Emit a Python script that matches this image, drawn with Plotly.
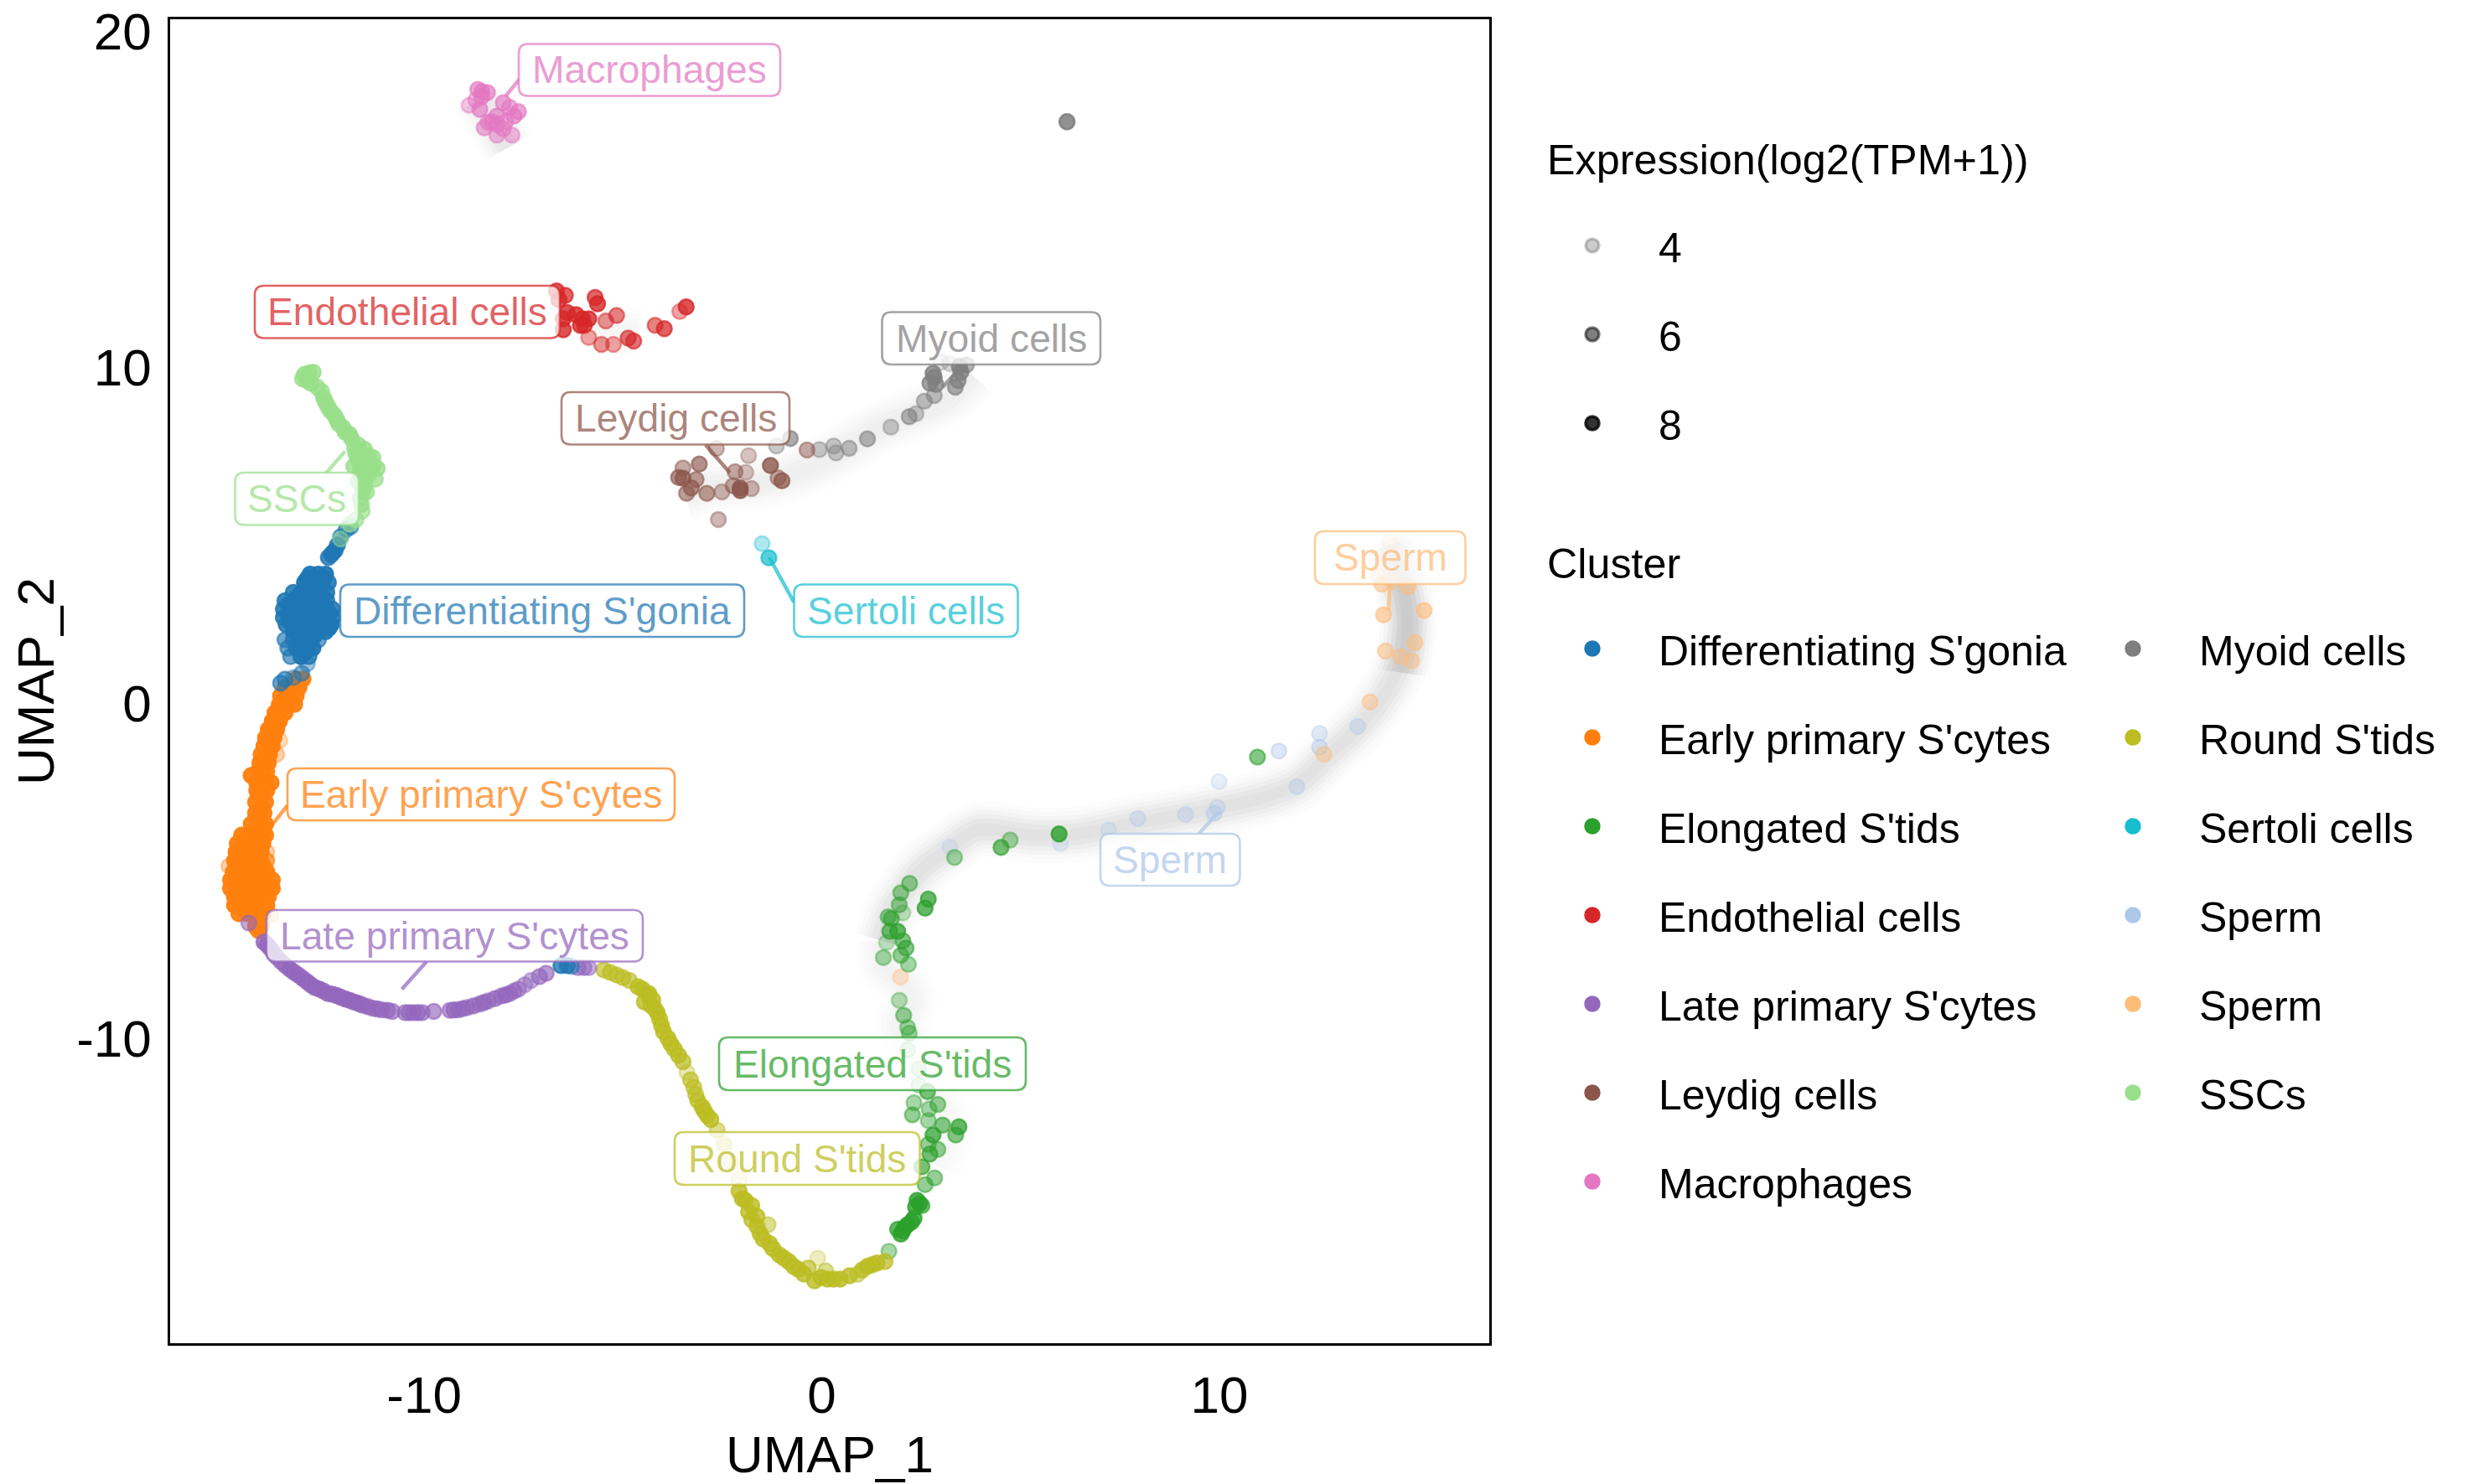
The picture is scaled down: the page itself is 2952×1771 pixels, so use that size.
import plotly.graph_objects as go

# Each point: (UMAP_1, UMAP_2, expression).
diff_sgonia = [
 (-12.87,3.83,9),(-12.66,3.83,9),(-12.48,3.83,9),
 (-13.01,3.58,9),(-12.8,3.58,9),(-12.59,3.58,9),(-12.41,3.58,8.5),
 (-13.29,3.29,8.5),(-13.08,3.29,9),(-12.87,3.29,9),(-12.66,3.29,9),(-12.45,3.29,8.5),
 (-13.5,3.04,8.5),(-13.29,3.04,9),(-13.08,3.04,9),(-12.87,3.04,9),(-12.66,3.04,9),(-12.45,3.04,8.5),
 (-13.54,2.79,8.5),(-13.33,2.79,9),(-13.1,2.79,9),(-12.9,2.79,9),(-12.69,2.79,9),(-12.48,2.79,9),(-12.31,2.79,8.5),
 (-13.54,2.54,8.5),(-13.33,2.54,9),(-13.1,2.54,9),(-12.9,2.54,9),(-12.69,2.54,9),(-12.48,2.54,9),(-12.31,2.54,8.5),
 (-13.47,2.33,8.5),(-13.26,2.33,9),(-13.05,2.33,9),(-12.83,2.33,9),(-12.62,2.33,9),(-12.34,2.33,9),
 (-13.29,2.12,9),(-13.08,2.12,9),(-12.87,2.12,9),(-12.66,2.12,9),(-12.48,2.12,8.5),
 (-13.5,1.88,7),(-13.29,1.88,8),(-13.08,1.88,9),(-12.87,1.88,9),(-12.66,1.88,7),
 (-13.43,1.63,7),(-13.22,1.63,8),(-13.01,1.63,9),(-12.8,1.63,9),
 (-13.36,1.38,7),(-13.1,1.38,9),(-12.9,1.38,8),(-12.94,1.17,5.5),
 (-13.2,3.15,9),(-12.98,3.15,9),(-12.76,3.15,9),(-12.55,3.15,9),(-13.42,2.92,9),(-13.2,2.92,9),(-12.98,2.92,9),(-12.76,2.92,9),(-12.55,2.92,9),
 (-13.42,2.66,9),(-13.2,2.66,9),(-12.98,2.66,9),(-12.76,2.66,9),(-12.55,2.66,9),(-12.38,2.66,9),(-13.38,2.42,9),(-13.16,2.42,9),(-12.94,2.42,9),(-12.72,2.42,9),(-12.5,2.42,9),
 (-13.18,2.22,9),(-12.96,2.22,9),(-12.74,2.22,9),(-12.4,2.22,9),(-13.18,2.0,9),(-12.98,2.0,9),(-12.76,2.0,9),(-13.11,1.75,9),(-12.9,1.75,9),(-12.99,1.5,9),(-12.85,3.46,9),(-12.66,3.46,9),
 (-12.94,3.7,9),(-12.72,3.7,9),(-12.52,3.7,9),
 (-12.41,4.33,8),(-12.34,4.41,8),(-12.24,4.54,8),(-12.1,4.95,7),(-11.96,5.16,7),(-11.85,5.24,6.5),
 (-12.3,4.47,8),(-12.18,4.7,8),(-13.5,0.71,7),(-13.61,0.59,7),(-13.29,0.75,5.5),(-13.08,0.88,6.5),
 (-6.56,-7.82,8),(-6.4,-7.82,8),(-6.29,-7.84,6),
]
early_scytes = [
 (-13.22,0.71,9),(-13.05,0.71,9),(-13.5,0.46,9),(-13.29,0.46,9),(-13.15,0.46,9),
 (-13.61,0.21,9),(-13.4,0.21,9),(-13.22,0.21,9),(-13.64,-0.04,9),(-13.43,-0.04,9),(-13.26,-0.04,9),
 (-13.75,-0.29,9),(-13.5,-0.29,9),(-13.82,-0.54,9),(-13.64,-0.54,9),(-13.92,-0.79,9),(-13.71,-0.79,9),
 (-13.99,-1.04,9),(-13.78,-1.04,9),(-13.63,-1.12,4.5),(-14.03,-1.28,9),(-13.82,-1.28,9),
 (-14.1,-1.53,9),(-13.89,-1.53,9),(-13.71,-1.53,5),(-14.13,-1.78,9),(-13.92,-1.78,9),
 (-14.17,-2.03,9),(-13.96,-2.03,9),(-14.35,-2.16,9),(-14.21,-2.37,9),(-13.99,-2.37,9),(-13.85,-2.37,9),
 (-14.21,-2.61,9),(-13.96,-2.61,9),(-14.24,-2.95,9),(-13.99,-2.95,9),(-14.24,-3.28,9),(-14.03,-3.28,9),
 (-14.35,-3.61,9),(-14.13,-3.61,9),(-13.99,-3.61,9),(-14.59,-3.94,9),(-14.38,-3.94,9),(-14.17,-3.94,9),(-13.99,-3.94,9),
 (-14.7,-4.19,9),(-14.49,-4.19,9),(-14.28,-4.19,9),(-14.06,-4.19,9),(-13.96,-4.44,5),
 (-14.73,-4.44,9),(-14.52,-4.44,9),(-14.31,-4.44,9),(-14.1,-4.44,9),
 (-14.77,-4.69,9),(-14.56,-4.69,9),(-14.35,-4.69,9),(-14.13,-4.69,9),(-13.96,-4.69,7),(-14.91,-4.86,5),
 (-14.8,-5.03,9),(-14.59,-5.03,9),(-14.38,-5.03,9),(-14.17,-5.03,9),(-13.96,-5.03,9),
 (-14.87,-5.27,9),(-14.66,-5.27,9),(-14.45,-5.27,9),(-14.24,-5.27,9),(-14.03,-5.27,9),(-13.82,-5.27,9),
 (-14.87,-5.52,9),(-14.66,-5.52,9),(-14.45,-5.52,9),(-14.24,-5.52,9),(-14.03,-5.52,9),(-13.82,-5.52,9),
 (-14.77,-5.77,9),(-14.56,-5.77,9),(-14.35,-5.77,9),(-14.13,-5.77,9),(-13.92,-5.77,9),
 (-14.77,-6.02,9),(-14.56,-6.02,9),(-14.35,-6.02,9),(-14.13,-6.02,9),(-13.96,-6.02,9),
 (-14.66,-6.27,9),(-14.45,-6.27,9),(-14.24,-6.27,9),(-14.06,-6.27,9),(-13.85,-6.31,4.5),
 (-14.24,-6.65,9),(-14.1,-6.65,9),(-14.17,-6.77,9),
 (-13.4,0.33,9),(-13.5,0.08,9),(-13.6,-0.17,9),(-13.72,-0.42,9),(-13.82,-0.67,9),(-13.88,-0.92,9),(-13.92,-1.16,9),(-13.95,-1.4,9),(-14.0,-1.65,9),(-14.06,-1.9,9),(-14.1,-2.2,9),
 (-14.1,-2.5,9),(-14.1,-2.78,9),(-14.1,-3.12,9),(-14.14,-3.45,9),(-14.24,-3.78,9),(-14.06,-3.78,9),(-14.48,-4.06,9),(-14.27,-4.06,9),(-14.06,-4.06,9),
 (-14.6,-4.32,9),(-14.4,-4.32,9),(-14.2,-4.32,9),(-14.64,-4.56,9),(-14.44,-4.56,9),(-14.24,-4.56,9),(-14.66,-4.86,9),(-14.45,-4.86,9),(-14.24,-4.86,9),(-14.04,-4.86,9),
 (-14.7,-5.15,9),(-14.5,-5.15,9),(-14.3,-5.15,9),(-14.1,-5.15,9),(-14.76,-5.4,9),(-14.55,-5.4,9),(-14.35,-5.4,9),(-14.14,-5.4,9),(-13.93,-5.4,9),
 (-14.66,-5.65,9),(-14.45,-5.65,9),(-14.24,-5.65,9),(-14.03,-5.65,9),(-14.66,-5.9,9),(-14.45,-5.9,9),(-14.24,-5.9,9),(-14.03,-5.9,9),(-14.55,-6.15,9),(-14.35,-6.15,9),(-14.15,-6.15,9),
]
elongated_stids = [
 (2.21,-5.37,6),(1.99,-5.65,6),(1.95,-6.01,6),(2.04,-6.25,4.5),(1.67,-6.37,6),(1.75,-6.42,6.5),
 (1.71,-6.8,7),(1.91,-6.8,7.5),(2.04,-7.08,6.5),(2.12,-7.3,6.5),(1.99,-7.51,6),(2.18,-7.78,5.5),
 (1.55,-7.58,5.5),(1.63,-7.13,4.5),(2.68,-5.84,7.5),(2.6,-6.11,7.5),(1.95,-8.85,5),(2.06,-9.3,6),
 (2.16,-9.66,5.5),(2.2,-9.83,5.5),(2.16,-10.33,4.5),(2.44,-10.9,4.5),(2.44,-11.38,4.5),(2.66,-11.57,7),
 (2.32,-11.9,5.5),(2.92,-11.95,6),(2.7,-12.09,5.5),(2.28,-12.26,6),(2.68,-12.43,5.5),(3.04,-12.57,6.5),
 (3.45,-12.62,7.5),(2.8,-12.86,7.5),(3.37,-12.86,6.5),(2.68,-13.14,6),(2.92,-13.29,6),(2.72,-13.43,7),
 (2.52,-13.81,7),(2.84,-14.14,6),(2.6,-14.34,6),(2.4,-14.81,8),(2.52,-14.96,7),(2.36,-15.0,8),
 (2.32,-15.34,8),(2.16,-15.53,8),(1.99,-15.81,8),(1.91,-15.67,7.5),(2.08,-15.62,8),(1.69,-16.32,5.5),
 (2.46,-14.9,8),(2.26,-15.45,8),(2.04,-15.72,8),
 (3.34,-4.6,5.5),(4.51,-4.3,7),(4.74,-4.08,5.5),(5.97,-3.9,8),(10.96,-1.61,6.5),
]
endothelial = [
 (-6.67,12.26,8),(-6.45,12.13,7.5),(-6.4,11.62,8),(-6.5,11.11,8),(-6.5,11.43,8),(-6.61,12.0,8),
 (-6.02,11.43,8),(-5.86,11.43,8),(-6.07,11.24,8),(-5.7,12.07,7.5),(-5.64,11.88,8),(-5.43,11.37,6),
 (-5.16,11.53,6.5),(-5.86,10.88,5.5),(-5.54,10.67,6),(-5.24,10.67,5.5),(-4.87,10.86,7),(-4.73,10.77,7),
 (-4.19,11.24,6.5),(-3.96,11.14,7.5),(-3.57,11.65,5.5),(-3.41,11.79,8),(-5.97,11.24,7.5),(-6.18,11.56,8),
]
late_scytes = [
 (-14.03,-7.12,8),(-13.95,-7.2,8),(-13.87,-7.31,7.5),(-13.79,-7.44,7.5),(-13.71,-7.56,7.5),(-13.6,-7.7,7.5),(-13.49,-7.82,7.5),(-13.38,-7.92,8),(-13.28,-8.01,8),(-13.17,-8.1,8),(-13.06,-8.2,8),
 (-12.95,-8.3,8),(-12.85,-8.39,8),(-12.74,-8.48,8),(-12.63,-8.52,8),(-12.53,-8.58,8),(-12.42,-8.65,8),(-12.31,-8.67,8),(-12.2,-8.71,8),(-12.1,-8.76,8),
 (-11.99,-8.81,8),(-11.88,-8.85,8),(-11.77,-8.9,8),(-11.66,-8.94,8),(-11.56,-8.99,8),(-11.42,-9.04,7.5),(-11.29,-9.09,7),(-11.18,-9.11,7.5),(-11.07,-9.13,7),(-10.92,-9.15,7.5),(-10.8,-9.18,7),
 (-10.48,-9.22,7),(-10.38,-9.22,7.5),(-10.27,-9.22,7),(-10.16,-9.22,7.5),(-10.05,-9.22,7),(-9.76,-9.18,7),(-9.35,-9.15,7),(-9.25,-9.14,7.5),(-9.14,-9.13,7),(-9.03,-9.1,7.5),
 (-8.92,-9.07,7),(-8.76,-9.02,7.5),(-8.6,-8.96,7),(-8.5,-8.92,7.5),(-8.39,-8.87,7),(-8.22,-8.8,7.5),(-8.06,-8.73,7),(-7.95,-8.69,7.5),(-7.85,-8.65,7),(-7.74,-8.58,7),(-7.63,-8.52,6.5),
 (-7.47,-8.39,6),(-7.31,-8.26,6),(-7.1,-8.15,7),(-6.93,-8.05,7),(-6.13,-7.88,6.5),(-5.98,-7.88,6.5),(-5.86,-7.88,6),(-14.41,-6.55,6.5),
]
leydig = [
 (-2.65,7.57,5.5),(-1.84,7.36,5),(-3.49,6.99,6),(-3.08,7.11,7),(-3.6,6.71,7),(-3.49,6.69,7.5),
 (-3.16,6.65,6.5),(-3.28,6.4,7),(-3.4,6.24,6.5),(-2.89,6.24,6.5),(-2.51,6.28,5.5),(-2.18,6.88,6),
 (-1.91,6.86,5),(-2.23,6.46,6),(-2.05,6.32,8),(-2.05,6.4,8),(-1.77,6.38,5.5),(-1.29,7.07,8),
 (-1.1,6.7,6),(-1.0,6.61,7.5),(-2.6,5.46,5.5),(-0.37,7.53,6),
]
macrophages = [
 (-8.65,18.26,7),(-8.41,18.17,7),(-8.55,18.05,7),(-8.87,17.79,5.5),(-8.6,17.67,7),(-8.01,17.86,7),
 (-7.85,17.73,6.5),(-7.63,17.6,7),(-7.74,17.47,7),(-8.17,17.47,7),(-8.49,17.12,6.5),(-8.17,17.22,6.5),
 (-8.01,17.09,6.5),(-8.17,16.9,6),(-7.79,16.9,6),(-8.39,17.28,6.5),(-8.55,18.2,7),(-8.7,17.95,6),(-8.3,17.3,7),(-7.95,17.3,6.5),
]
myoid = [
 (-0.79,7.87,7),(-1.14,7.65,5.5),(-0.06,7.54,5.5),(0.3,7.65,5.5),(0.36,7.44,5.5),(0.69,7.58,6),
 (1.15,7.86,6.5),(1.74,8.21,5.5),(2.2,8.52,6.5),(2.37,8.61,5.5),(2.58,8.98,6),(2.83,9.15,6),
 (2.72,9.52,7.5),(2.83,9.69,8),(2.87,9.48,7.5),(3.36,9.4,7),(3.43,9.6,7.5),(3.5,9.85,8),
 (3.46,10.02,8),(3.64,10.06,6.5),(3.0,10.14,4.5),(3.22,10.1,4.5),(2.8,9.81,8),(6.17,17.3,7.5),(6.17,17.3,6),
]
round_stids = [
 (-5.48,-7.95,7),(-5.32,-8.02,7),(-5.16,-8.1,7),(-5.0,-8.18,7),(-4.84,-8.26,7),(-4.62,-8.45,8),(-4.51,-8.52,8),(-4.35,-8.65,8),(-4.25,-8.84,8),(-4.36,-8.72,8),
 (-4.46,-8.9,8),(-4.3,-9.0,8),(-4.2,-9.1,8),(-4.14,-9.22,8),(-4.08,-9.4,8),(-4.03,-9.6,8),(-3.98,-9.79,8),(-3.87,-9.98,8),(-3.8,-10.14,8),(-3.71,-10.3,8),(-3.6,-10.49,8),
 (-3.49,-10.68,7.5),(-3.39,-11.0,5),(-3.3,-11.22,7),(-3.22,-11.44,7),(-3.17,-11.65,7),(-3.12,-11.83,7.5),(-3.01,-12.02,8),(-2.96,-12.14,8),
 (-2.88,-12.28,8),(-2.79,-12.4,8),(-2.63,-12.72,6),(-2.47,-13.1,4.5),(-2.44,-13.19,4.5),(-2.28,-13.67,4.5),(-2.08,-14.19,4.5),
 (-2.08,-14.53,8),(-2.0,-14.76,8),(-1.92,-14.81,8),(-1.76,-14.96,8),(-1.84,-15.15,8),(-1.76,-15.39,7.5),
 (-1.63,-15.29,8),(-1.63,-15.58,8),(-1.35,-15.53,6),(-1.55,-15.8,8),(-1.47,-15.96,8),(-1.31,-16.1,8),(-1.23,-16.24,8),
 (-1.07,-16.43,8),(-0.95,-16.53,8),(-0.83,-16.63,8),(-0.71,-16.77,8),(-0.59,-16.86,8),(-0.34,-16.82,7),(-0.45,-17.0,8),
 (-0.1,-16.53,4.5),(-0.18,-17.2,8),(-0.02,-17.1,8),(0.1,-16.91,6),(0.14,-17.15,8),(0.3,-17.15,8),(0.46,-17.15,8),
 (0.7,-17.05,8),(0.9,-17.01,6),(1.02,-16.88,8),(1.15,-16.77,8),(1.27,-16.72,8),(1.39,-16.67,8),(1.59,-16.63,7.5),
]
sertoli = [(-1.5,4.74,5),(-1.33,4.32,7.5)]
sperm_blue = [
 (3.22,-4.29,4.5),(6.0,-4.19,4.5),(7.22,-3.78,4.5),(7.95,-3.44,5),(9.15,-3.32,5),(9.95,-3.11,5),(9.87,-3.29,5.5),
 (9.99,-2.34,4.5),(11.5,-1.43,5.5),(12.52,-0.91,5),(12.52,-1.32,5.5),(11.95,-2.49,5),(13.48,-0.7,5),
]
sperm_orange = [
 (14.28,4.79,4.5),(14.09,3.54,6),(14.75,3.46,6),(14.13,2.62,6.5),(15.15,2.75,6.5),(14.18,1.54,6),(14.92,1.79,6),
 (14.56,1.38,5.5),(14.84,1.25,5.5),(13.79,0.03,5.5),(12.63,-1.53,5.5),(13.99,3.79,5),(14.37,3.62,5),(1.98,-8.16,5),
]
sscs = [
 (-13.01,9.78,8),(-12.9,9.82,8),(-12.79,9.84,8),(-13.06,9.65,8),(-12.95,9.6,8),(-12.85,9.52,8),(-12.69,9.4,7.5),(-12.58,9.27,7.5),(-12.53,9.08,8),(-12.48,8.95,8),
 (-12.42,8.82,8),(-12.36,8.7,8),(-12.26,8.57,8),(-12.2,8.44,8),(-12.15,8.31,8),(-12.04,8.19,8),(-11.99,8.06,8),(-11.88,8.0,8),
 (-11.83,7.87,8),(-11.66,7.68,8),(-11.5,7.55,8),(-11.4,7.36,8),(-11.29,7.04,8),(-11.66,7.23,8),(-11.5,7.04,8),
 (-11.72,7.42,8),(-11.77,7.04,8),(-11.61,6.79,8),(-11.4,6.79,8),(-11.5,6.47,8),(-11.66,6.6,8),(-11.55,6.28,8),(-11.61,6.09,7.5),
 (-11.58,5.9,7.5),(-11.56,5.71,7),(-11.72,5.45,7),(-11.88,5.32,6.5),(-12.1,4.88,5.5),(-11.56,7.3,8),(-11.29,7.3,8),(-11.18,6.98,8),
 (-11.5,6.72,8),(-11.45,6.28,7.5),(-11.23,6.66,7.5),(-11.75,7.6,8),(-11.62,7.47,8),(-11.45,7.2,8),(-11.6,7.0,8),(-11.35,7.0,8),(-11.5,6.9,8),
]

# Background cells that sit under the coloured ones, read as paths through the grey band.
haze_sperm_x = [1.51,1.75,2.16,2.56,3.08,3.93,5.34,6.47,7.69,8.72,10.04,10.98,11.92,12.77,13.52,14.18,14.65,14.75,14.56,14.28]
haze_sperm_y = [-7.08,-6.22,-5.46,-4.89,-4.44,-3.78,-3.94,-3.9,-3.61,-3.4,-3.11,-2.86,-2.45,-1.53,-0.7,0.3,1.46,2.62,3.62,4.7]
haze_top_x = [14.6,14.72,14.6,14.35]
haze_top_y = [0.9,2.3,3.6,4.9]
haze_low_x = [2.24,1.99,2.24,1.99,1.59,1.51]
haze_low_y = [-10.14,-9.56,-8.9,-8.23,-7.85,-7.08]
haze_tail_x = [2.8,3.2,2.88]
haze_tail_y = [-11.66,-12.62,-13.76]
haze_myoid_x = [3.78,3.22,2.51,1.46,0.41,-0.79,-1.7,-2.75,-3.45]
haze_myoid_y = [9.77,9.11,8.69,8.19,7.44,6.78,6.53,6.44,6.2]
haze_macro_x = [-8.6,-8.17,-7.9]
haze_macro_y = [17.98,17.09,16.52]
haze_endo_x = [-5.7,-4.62]
haze_endo_y = [11.24,10.99]

expression_levels = [4, 6, 8]
x_ticks = [-10, 0, 10]
x_tick_text = ["-10", "0", "10"]
y_ticks = [-10, 0, 10, 20]
y_tick_text = ["-10", "0", "10", "20"]

W, H = 2952, 1771
PAGE = 8  # the browser's default body margin
L, R, T, B = 203, 1777, 23, 1603
FONT = "Liberation Sans"

clusters = {
    "Differentiating S'gonia": ("#1F77B4", diff_sgonia),
    "Early primary S'cytes": ("#FF7F0E", early_scytes),
    "Elongated S'tids": ("#2CA02C", elongated_stids),
    "Endothelial cells": ("#D62728", endothelial),
    "Late primary S'cytes": ("#9467BD", late_scytes),
    "Leydig cells": ("#8C564B", leydig),
    "Macrophages": ("#E377C2", macrophages),
    "Myoid cells": ("#7F7F7F", myoid),
    "Round S'tids": ("#BCBD22", round_stids),
    "Sertoli cells": ("#17BECF", sertoli),
    "Sperm ": ("#AEC7E8", sperm_blue),
    "Sperm": ("#FFBB78", sperm_orange),
    "SSCs": ("#98DF8A", sscs),
}
DRAW_ORDER = ["Sperm ", "Sperm", "Elongated S'tids", "Round S'tids", "Early primary S'cytes",
              "Late primary S'cytes", "Differentiating S'gonia", "SSCs", "Endothelial cells",
              "Myoid cells", "Leydig cells", "Macrophages", "Sertoli cells"]
COL1 = list(clusters)[:7]
COL2 = list(clusters)[7:]

def rgba(hex_colour, a):
    h = hex_colour.lstrip("#")
    return f"rgba({int(h[:2],16)},{int(h[2:4],16)},{int(h[4:],16)},{a:.3f})"

def alpha_of(e):
    return min(0.2 + (e - 4) * 0.15, 0.97)

def fx(p):
    return (p - L) / (R - L)

def fy(p):
    return 1 - (p - T) / (B - T)

fig = go.Figure()

# grey background band, stacked widths give it a soft edge
HAZE_LAYERS = [(66, 0.018), (56, 0.025), (46, 0.035), (36, 0.045), (26, 0.05), (14, 0.03)]
for xs, ys, strength in [(haze_sperm_x, haze_sperm_y, 1.0), (haze_top_x, haze_top_y, 0.9),
                         (haze_low_x, haze_low_y, 0.45), (haze_tail_x, haze_tail_y, 0.25),
                         (haze_myoid_x, haze_myoid_y, 0.55), (haze_macro_x, haze_macro_y, 0.8),
                         (haze_endo_x, haze_endo_y, 0.3)]:
    for width, a in HAZE_LAYERS:
        fig.add_trace(go.Scatter(x=xs, y=ys, mode="lines", hoverinfo="skip", showlegend=False,
                                 line=dict(color=f"rgba(110,110,110,{a * strength:.4f})", width=width,
                                           shape="spline", smoothing=0.8)))

# cells
for name in DRAW_ORDER:
    colour, pts = clusters[name]
    cols = [rgba(colour, alpha_of(p[2])) for p in pts]
    fig.add_trace(go.Scatter(x=[p[0] for p in pts], y=[p[1] for p in pts], mode="markers",
                             name=name.strip(), showlegend=False,
                             marker=dict(size=18, color=cols, line=dict(color=cols, width=2.5))))

# native legends
for lev in expression_levels:
    c = rgba("#000000", alpha_of(lev))
    fig.add_trace(go.Scatter(x=[None], y=[None], mode="markers", name=str(lev), legend="legend",
                             legendgroup=f"e{lev}", marker=dict(size=16, color=c, line=dict(color=c, width=3.5))))
for legend_id, names in (("legend2", COL1), ("legend3", COL2)):
    for name in names:
        colour = clusters[name][0]
        fig.add_trace(go.Scatter(x=[None], y=[None], mode="markers", name=name.strip(), legend=legend_id,
                                 legendgroup=name, marker=dict(size=16, color=colour, line=dict(color=colour, width=3.5))))

# repelled labels: text, box in page pixels (left, right, top, bottom), leader in data units
LABELS = [
    ("Macrophages", "Macrophages", (619, 931, 52.5, 114.5), (-7.61, 18.56, -7.96, 18.05)),
    ("Endothelial cells", "Endothelial cells", (304, 668, 341, 403.5), None),
    ("Leydig cells", "Leydig cells", (670, 942, 468, 530.5), (-2.92, 7.68, -2.31, 6.85)),
    ("SSCs", "SSCs", (280.5, 428, 564, 626.5), (-12.47, 6.84, -11.99, 7.49)),
    ("Differentiating S'gonia", "Differentiating S'gonia", (406, 888, 697.5, 760), None),
    ("Sertoli cells", "Sertoli cells", (947.5, 1214.5, 697.5, 760), (-1.32, 4.33, -0.7, 3.0)),
    ("Myoid cells", "Myoid cells", (1052.5, 1313, 372.5, 435), (3.04, 9.4, 3.46, 9.94)),
    ("Early primary S'cytes", "Early primary S'cytes", (343, 805, 917, 979), (-13.44, -3.05, -13.9, -3.75)),
    ("Late primary S'cytes", "Late primary S'cytes", (318, 767, 1086, 1147.5), (-9.94, -7.7, -10.56, -8.52)),
    ("Elongated S'tids", "Elongated S'tids", (858, 1224, 1238, 1301), None),
    ("Round S'tids", "Round S'tids", (805, 1097.5, 1351, 1414), None),
    ("Sperm", "Sperm ", (1313, 1479.5, 995, 1057), (9.48, -3.9, 9.99, -3.24)),
    ("Sperm", "Sperm", (1569, 1748.5, 634, 697), (14.29, 3.52, 14.26, 2.75)),
]

def rounded_path(l, r, t, b, rad=11):
    return (f"M {fx(l+rad)} {fy(t)} L {fx(r-rad)} {fy(t)} Q {fx(r)} {fy(t)} {fx(r)} {fy(t+rad)} "
            f"L {fx(r)} {fy(b-rad)} Q {fx(r)} {fy(b)} {fx(r-rad)} {fy(b)} L {fx(l+rad)} {fy(b)} "
            f"Q {fx(l)} {fy(b)} {fx(l)} {fy(b-rad)} L {fx(l)} {fy(t+rad)} Q {fx(l)} {fy(t)} {fx(l+rad)} {fy(t)} Z")

shapes, annotations = [], []
LABEL_ALPHA = 0.72
for text, key, (l, r, t, b), leader in LABELS:
    colour = clusters[key][0]
    soft = rgba(colour, LABEL_ALPHA)
    if leader:
        x0, y0, x1, y1 = leader
        shapes.append(dict(type="line", xref="x", yref="y", x0=x0, y0=y0, x1=x1, y1=y1,
                           line=dict(color=soft, width=4.5), layer="above"))
    shapes.append(dict(type="path", xref="paper", yref="paper", path=rounded_path(l, r, t, b),
                       fillcolor="rgba(255,255,255,0.75)", line=dict(color=soft, width=2.6), layer="above"))
    annotations.append(dict(text=text, xref="paper", yref="paper", x=fx((l + r) / 2), y=fy((t + b) / 2),
                            xanchor="center", yanchor="middle", showarrow=False,
                            font=dict(family=FONT, size=46.2, color=soft)))

for text, px, py in [("Expression(log2(TPM+1))", 1844, 190), ("Cluster", 1844, 672)]:
    annotations.append(dict(text=text, xref="paper", yref="paper", x=fx(px), y=fy(py), xanchor="left",
                            yanchor="middle", showarrow=False, font=dict(family=FONT, size=50.3, color="black")))

legend_common = dict(font=dict(family=FONT, size=50, color="black"), bgcolor="rgba(0,0,0,0)", borderwidth=0,
                     itemwidth=148, tracegroupgap=38, xanchor="left", yanchor="top", itemclick=False, itemdoubleclick=False)

axis_common = dict(showgrid=False, zeroline=False, showline=True, mirror=True, linecolor="black", linewidth=2.6,
                   ticks="", automargin=True, tickfont=dict(family=FONT, size=62, color="black"),
                   tickmode="array", ticklabeloverflow="allow")

fig.update_layout(
    width=W - PAGE, height=H - PAGE, paper_bgcolor="white", plot_bgcolor="white",
    margin=dict(l=L - PAGE, r=W - R, t=T - PAGE, b=H - B, pad=0, autoexpand=False),
    font=dict(family=FONT),
    xaxis=dict(axis_common, range=[-16.39, 16.79], tickvals=x_ticks, ticktext=x_tick_text, ticklabelstandoff=6,
               title=dict(text="UMAP_1", font=dict(family=FONT, size=62, color="black"), standoff=16)),
    yaxis=dict(axis_common, range=[-19.06, 20.35], tickvals=y_ticks, ticktext=y_tick_text, ticklabelstandoff=7,
               title=dict(text="UMAP_2", font=dict(family=FONT, size=62, color="black"), standoff=28)),
    legend=dict(legend_common, x=fx(1821), y=fy(254)),
    legend2=dict(legend_common, x=fx(1821), y=fy(735)),
    legend3=dict(legend_common, x=fx(2466), y=fy(735)),
    shapes=shapes, annotations=annotations,
)

fig.write_html("out.html")
